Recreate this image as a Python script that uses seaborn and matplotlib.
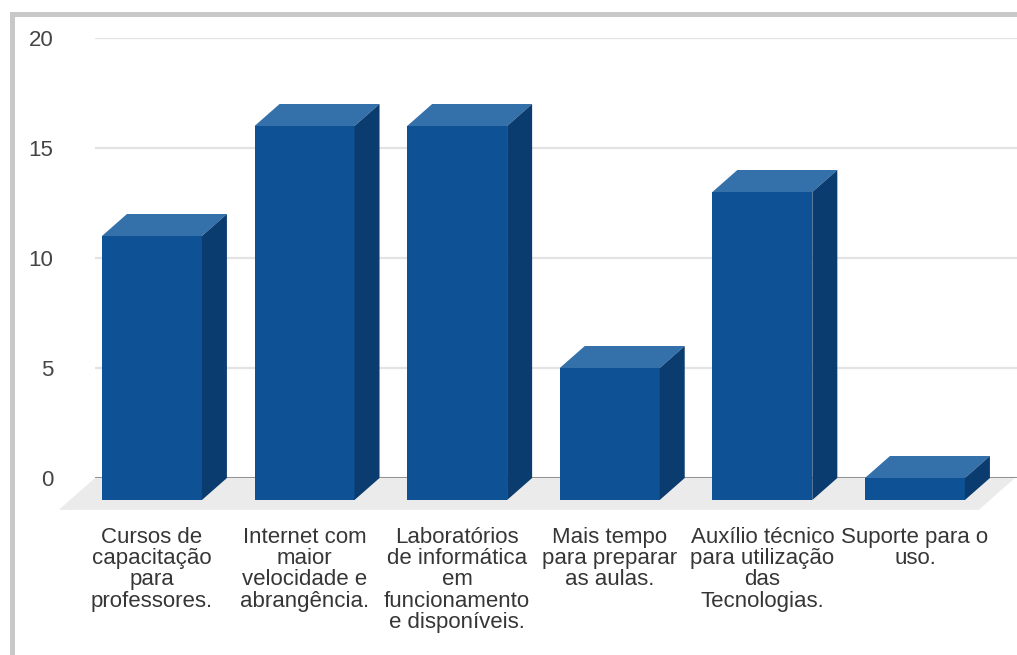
import numpy as np
import pandas as pd
import matplotlib
matplotlib.use("Agg")
import matplotlib.pyplot as plt
import seaborn as sns
from matplotlib.patches import Polygon, Rectangle

# Survey answers: what would help teachers use technology in class
categories = [
    "Cursos de\ncapacitação\npara\nprofessores.",
    "Internet com\nmaior\nvelocidade e\nabrangência.",
    "Laboratórios\nde informática\nem\nfuncionamento\ne disponíveis.",
    "Mais tempo\npara preparar\nas aulas.",
    "Auxílio técnico\npara utilização\ndas\nTecnologias.",
    "Suporte para o\nuso.",
]
counts = [12, 17, 17, 6, 14, 1]
y_ticks = [0, 5, 10, 15, 20]

FRONT = "#0f5195"
TOP = "#3470aa"
SIDE = "#0b3c6f"

W, H = 1017, 655
sns.set_style("white")
plt.rcParams["font.family"] = ["Liberation Sans", "DejaVu Sans"]

fig = plt.figure(figsize=(W / 100, H / 100), dpi=100)
ax = fig.add_axes([95 / W, 1 - 478 / H, (W - 95) / W, 440 / H])

df = pd.DataFrame({"item": categories, "count": counts})
sns.barplot(data=df, x="item", y="count", color=FRONT, saturation=1,
            width=0.655, errorbar=None, ax=ax, zorder=3, linewidth=0)

# category spacing of ~152.6 px; the 3D depth is 25 px across, 1 unit up
x_left = -0.537
ax.set_xlim(x_left, x_left + (W - 95) / 152.6)
ax.set_ylim(0, 20)
dx, dy = 25 / 152.6, 1.0

# floor under the columns
floor_drop = 1.45
fdx = dx * floor_drop / dy
x_right = x_left + (1015 - 95) / 152.6
ax.add_patch(Polygon([(x_left, 0), (x_right, 0), (x_right - fdx, -floor_drop),
                      (x_left - fdx, -floor_drop)], closed=True,
                     fc="#ebebeb", ec="none", zorder=1, clip_on=False))

# turn each flat bar into a box: shift the face forward, add top and side
for p in list(ax.patches):
    if not isinstance(p, Rectangle):
        continue
    x0, w, v = p.get_x(), p.get_width(), p.get_height()
    p.set_x(x0 - dx)
    p.set_y(-dy)
    p.set_clip_on(False)
    ax.add_patch(Polygon([(x0 - dx, v - dy), (x0 + w - dx, v - dy),
                          (x0 + w, v), (x0, v)], closed=True,
                         fc=TOP, ec="none", zorder=3, clip_on=False))
    ax.add_patch(Polygon([(x0 + w - dx, -dy), (x0 + w, 0), (x0 + w, v),
                          (x0 + w - dx, v - dy)], closed=True,
                         fc=SIDE, ec="none", zorder=3, clip_on=False))

ax.axhline(0, color="#8a8a8a", lw=1.3, zorder=2)
ax.yaxis.grid(True, color="#e3e3e3", lw=1.6)
ax.xaxis.grid(False)
ax.set_axisbelow(True)
for s in ax.spines.values():
    s.set_visible(False)

ax.set_xticks(np.arange(len(categories)) - dx, categories)
ax.set_yticks(y_ticks)
ax.tick_params(axis="x", length=0, pad=35, labelsize=16, labelcolor="#363636")
ax.tick_params(axis="y", length=0, pad=30, labelsize=16, labelcolor="#444444")
for lbl in ax.get_xticklabels():
    lbl.set_linespacing(1.02)
ax.set_xlabel("")
ax.set_ylabel("")

# grey frame along the top and left edges
fig.add_artist(Rectangle((10 / W, 1 - 17 / H), (W - 10) / W, 5 / H,
                         transform=fig.transFigure, fc="#c8c8c8", ec="none"))
fig.add_artist(Rectangle((10 / W, 0), 5 / W, (H - 12) / H,
                         transform=fig.transFigure, fc="#c8c8c8", ec="none"))

fig.savefig("out.png", dpi=100)
